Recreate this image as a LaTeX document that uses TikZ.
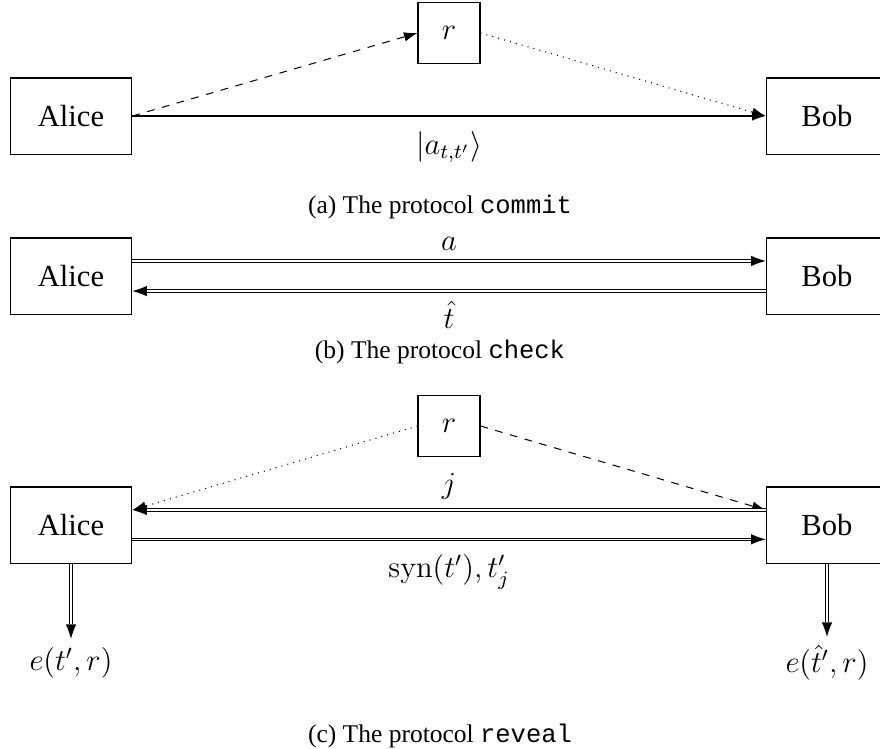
\documentclass[tikz,border=0pt]{standalone}
\usepackage[no-math]{fontspec}
\setmainfont{Liberation Serif}
\setmonofont{Liberation Mono}
\usetikzlibrary{arrows.meta}

\begin{document}
\begin{tikzpicture}[party/.style={draw, minimum width=47.8pt, minimum height=29.8pt, inner sep=0pt}, key/.style={draw, minimum width=24.3pt, minimum height=23.9pt, inner sep=0pt}, every node/.style={font=\large}, caption/.style={font=\normalsize}, >={Latex[length=5.3pt, width=3.7pt]}, dbl/.style={->, line width=1.4pt, >={Latex[length=5.6pt, width=4pt, line width=0pt]}, postaction={draw, white, line width=0.6pt, -, shorten >=5.6pt}}, x=0.392pt, y=-0.392pt]
\useasboundingbox (0,0) rectangle (880,748);
% (a) commit
\node[key] (ra) at (449,33) {$r$};
\node[party] (alicea) at (71,116) {Alice};
\node[party] (boba) at (827,116) {Bob};
\draw[->, dashed] (alicea.east) -- (ra.west);
\draw[->, dotted] (ra.east) -- (boba.west);
\draw[->] (alicea) -- node[below=2.5pt] {$|a_{t,t'}\rangle$} (boba);
\node[caption] (capa) at (440,207) {(a) The protocol \texttt{commit}};
% (b) check
\node[party] (aliceb) at (71,276) {Alice};
\node[party] (bobb) at (827,276) {Bob};
\draw[dbl] ([yshift=5.9pt]aliceb.east) -- node[above] {$a$} ([yshift=5.9pt]bobb.west);
\draw[dbl] ([yshift=-5.9pt]bobb.west) -- node[below] {$\hat{t}$} ([yshift=-5.9pt]aliceb.east);
\node[caption] (capb) at (440,352) {(b) The protocol \texttt{check}};
% (c) reveal
\node[key] (rc) at (449,426) {$r$};
\node[party] (alicec) at (71,525) {Alice};
\node[party] (bobc) at (827,525) {Bob};
\draw[->, dotted] (rc.west) -- ([yshift=5.9pt]alicec.east);
\draw[->, dashed] (rc.east) -- ([yshift=5.9pt]bobc.west);
\draw[dbl] ([yshift=5.9pt]bobc.west) -- node[above] {$j$} ([yshift=5.9pt]alicec.east);
\draw[dbl] ([yshift=-5.6pt]alicec.east) -- node[below=2pt] {$\mathrm{syn}(t'), t'_j$} ([yshift=-5.6pt]bobc.west);
\node (outa) at (71,663) {$e(t',r)$};
\node (outb) at (827,663) {$e(\hat{t}',r)$};
\draw[dbl] (alicec) -- (outa);
\draw[dbl] (bobc) -- (outb);
\node[caption] (capc) at (440,736) {(c) The protocol \texttt{reveal}};
\end{tikzpicture}
\end{document}
